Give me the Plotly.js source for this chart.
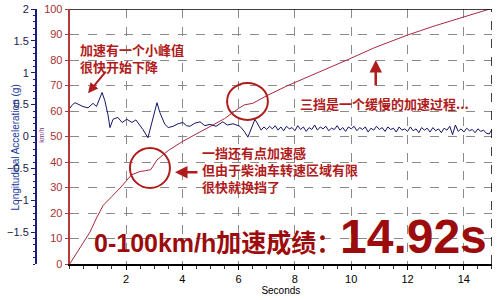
<!DOCTYPE html>
<html>
<head>
<meta charset="utf-8">
<script src="https://cdn.plot.ly/plotly-3.0.1.min.js"></script>
<style>html,body{margin:0;padding:0;background:#fff;}#chart{width:500px;height:300px;}</style>
</head>
<body>
<div id="chart"></div>
<script>
// Speed curve (km/h vs seconds)
const speedTime = [0, 0.35, 0.72, 0.95, 1.19, 1.5, 1.79, 2.2, 2.5, 2.7, 2.88, 3.1, 3.5, 4.0, 4.5, 5.0, 5.5, 6.0, 6.2, 6.5, 7.0, 7.75, 8.5, 9.2, 9.85, 10.8, 12.0, 13.0, 13.4, 14.2, 14.92];
const speedKmh  = [0, 6, 12.5, 18, 23, 26.5, 29.8, 35, 36.3, 36.6, 37, 40.8, 44.5, 48, 51, 53.8, 57, 61, 62.4, 63, 66, 70, 73.5, 77, 80, 84.7, 89.8, 93.5, 94.9, 97.5, 100];

// Longitudinal acceleration (g vs seconds)
const accTime = [0, 0.1, 0.19, 0.35, 0.47, 0.65, 0.83, 0.95, 1.15, 1.25, 1.36, 1.43, 1.54, 1.71, 1.86, 2.03, 2.21, 2.35, 2.45, 2.6, 2.78, 2.96, 3.1, 3.2, 3.38, 3.5, 3.67, 3.85, 4.02, 4.15, 4.27, 4.45, 4.63, 4.8, 4.98, 5.2, 5.44, 5.6, 5.8, 6.05, 6.2, 6.33, 6.45, 6.58, 6.7,
  6.8, 6.9, 7.0, 7.1, 7.2, 7.3, 7.4, 7.5, 7.6, 7.7, 7.8, 7.9, 8.0, 8.1, 8.2, 8.3, 8.4, 8.5, 8.6, 8.7, 8.8, 8.9, 9.0, 9.1, 9.2, 9.3, 9.4, 9.5, 9.6, 9.7, 9.8, 9.9,
  10.0, 10.1, 10.2, 10.3, 10.4, 10.5, 10.6, 10.7, 10.8, 10.9, 11.0, 11.1, 11.2, 11.3, 11.4, 11.5, 11.6, 11.7, 11.8, 11.9, 12.0, 12.1, 12.2, 12.3, 12.4, 12.5, 12.6, 12.7, 12.8, 12.9,
  13.0, 13.1, 13.2, 13.3, 13.4, 13.5, 13.6, 13.7, 13.8, 13.9, 14.0, 14.1, 14.2, 14.3, 14.4, 14.5, 14.6, 14.7, 14.8, 14.9, 15.0];
const accG = [0.44, 0.50, 0.53, 0.50, 0.47, 0.45, 0.52, 0.47, 0.69, 0.56, 0.34, 0.14, 0.27, 0.30, 0.22, 0.27, 0.22, 0.26, 0.20, 0.11, -0.02, 0.27, 0.53, 0.38, 0.19, 0.14, 0.16, 0.20, 0.22, 0.17, 0.16, 0.21, 0.23, 0.17, 0.19, 0.16, 0.23, 0.18, 0.20, 0.16, 0.08, -0.01, 0.14, 0.27, 0.18,
  0.10, 0.15, 0.11, 0.16, 0.12, 0.17, 0.10, 0.15, 0.09, 0.16, 0.12, 0.14, 0.09, 0.17, 0.11, 0.15, 0.08, 0.14, 0.11, 0.18, 0.10, 0.15, 0.12, 0.16, 0.09, 0.13, 0.11, 0.17, 0.10, 0.14, 0.08, 0.15,
  0.12, 0.16, 0.09, 0.14, 0.11, 0.15, 0.07, 0.13, 0.10, 0.16, 0.11, 0.14, 0.08, 0.15, 0.11, 0.13, 0.07, 0.15, 0.10, 0.12, 0.08, 0.15, 0.09, 0.12, 0.06, 0.14, 0.10, 0.13, 0.07, 0.14,
  0.09, 0.12, 0.06, 0.13, 0.10, 0.16, 0.03, 0.18, 0.08, 0.12, 0.07, 0.13, 0.09, 0.11, 0.06, 0.12, 0.08, 0.10, 0.05, 0.04, 0.11];

const xTicks = [2, 4, 6, 8, 10, 12, 14];
const kmhTicks = [0, 10, 20, 30, 40, 50, 60, 70, 80, 90, 100];
const gTicks = [-1.5, -1, -0.5, 0, 0.5, 1, 1.5, 2];

const RED = '#b01c1c';
const CJK = '"Noto Sans CJK SC", sans-serif';
const MIX = '"Liberation Sans", "Noto Sans CJK SC", sans-serif';

const traces = [
  {x: speedTime, y: speedKmh, type: 'scatter', mode: 'lines', yaxis: 'y',
   line: {color: '#a8283c', width: 1}, hoverinfo: 'skip'},
  {x: accTime, y: accG, type: 'scatter', mode: 'lines', yaxis: 'y2',
   line: {color: '#14146a', width: 1}, hoverinfo: 'skip'}
];

const layout = {
  width: 500, height: 300,
  margin: {l: 36, r: 8, t: 9, b: 36},
  paper_bgcolor: '#fff', plot_bgcolor: '#fff',
  showlegend: false,
  font: {family: '"Liberation Sans", Arial, sans-serif', size: 11, color: '#000'},
  xaxis: {
    domain: [0.0739, 1], range: [0, 15], tickvals: xTicks,
    ticks: 'outside', ticklen: 4, tickcolor: '#000',
    showline: true, linecolor: '#000', linewidth: 2,
    showgrid: true, gridcolor: '#8a8a8a', griddash: 'dash', gridwidth: 1,
    zeroline: false,
    minor: {dtick: 0.5, ticklen: 3, tickcolor: '#333', showgrid: false},
    tickfont: {size: 11, color: '#000'},
    title: {text: 'Seconds', font: {size: 10, color: '#000'}, standoff: 2}
  },
  yaxis: {
    range: [0, 100], tickvals: kmhTicks,
    ticks: 'outside', ticklen: 3, tickcolor: '#b53a3a',
    showline: true, linecolor: '#b53a3a', linewidth: 2,
    showgrid: true, gridcolor: '#8a8a8a', griddash: 'dash', gridwidth: 1,
    zeroline: false,
    tickfont: {size: 11, color: '#a83232'}
  },
  yaxis2: {
    overlaying: 'y', anchor: 'free', position: 0, side: 'left',
    range: [-2, 2], tickvals: gTicks,
    ticks: 'outside', ticklen: 4, tickcolor: '#1c1c7c',
    showline: true, linecolor: '#1c1c7c', linewidth: 2,
    showgrid: false, zeroline: false,
    minor: {dtick: 0.1, ticklen: 2, tickcolor: '#1c1c7c', showgrid: false},
    tickfont: {size: 11, color: '#1a1a4a'}
  },
  shapes: [
    {type: 'line', xref: 'x', yref: 'y', x0: 0, x1: 15, y0: 100, y1: 100, line: {color: '#000', width: 1.5}},
    {type: 'line', xref: 'x', yref: 'y', x0: 15, x1: 15, y0: 0, y1: 100, line: {color: '#000', width: 1.5, dash: 'dash'}},
    {type: 'circle', xref: 'x', yref: 'y', x0: 5.59, x1: 7.04, y0: 56.5, y1: 71, line: {color: RED, width: 2}},
    {type: 'circle', xref: 'x', yref: 'y', x0: 2.14, x1: 3.56, y0: 29.8, y1: 45.5, line: {color: RED, width: 2}}
  ],
  annotations: [
    {xref: 'paper', yref: 'paper', x: -0.0614, y: 0.455, text: 'Longitudinal Acceleration (g)', textangle: -90,
     showarrow: false, font: {size: 10, color: '#1a3a9a'}},
    {xref: 'paper', yref: 'y', x: 0, y: 50.5, text: 'km/h', textangle: -90, showarrow: false,
     font: {size: 7, color: '#7a2a8a'}},
    {xref: 'x', yref: 'y', x: 0.29, y: 80.8, xanchor: 'left', yanchor: 'middle', align: 'left',
     text: '<b>加速有一个小峰值<br>很快开始下降</b>', showarrow: false, font: {family: CJK, size: 13, color: RED}},
    {xref: 'x', yref: 'y', x: 0.65, y: 67, ax: 19, ay: -23, text: '', showarrow: true,
     arrowhead: 2, arrowsize: 1, arrowwidth: 2, arrowcolor: RED},
    {xref: 'x', yref: 'y', x: 4.63, y: 36.9, xanchor: 'left', yanchor: 'middle', align: 'left',
     text: '<b>一挡还有点加速感<br>但由于柴油车转速区域有限<br>很快就换挡了</b>', showarrow: false,
     font: {family: CJK, size: 13, color: RED}},
    {xref: 'x', yref: 'y', x: 3.74, y: 36, ax: 24, ay: 0, text: '', showarrow: true,
     arrowhead: 2, arrowsize: 1, arrowwidth: 2.5, arrowcolor: RED},
    {xref: 'x', yref: 'y', x: 8.11, y: 63.1, xanchor: 'left', yanchor: 'middle',
     text: '<b>三挡是一个缓慢的加速过程...</b>', showarrow: false, font: {family: CJK, size: 13, color: RED}},
    {xref: 'x', yref: 'y', x: 10.87, y: 80, ax: 0, ay: 27, text: '', showarrow: true,
     arrowhead: 2, arrowsize: 1, arrowwidth: 2.5, arrowcolor: RED},
    {xref: 'x', yref: 'y', x: 0.79, y: 8.2, xanchor: 'left', yanchor: 'middle',
     text: '<b>0-100km/h加速成绩：</b>', showarrow: false, font: {family: MIX, size: 25, color: '#9c0c0c'}},
    {xref: 'x', yref: 'y', x: 9.52, y: 10.6, xanchor: 'left', yanchor: 'middle',
     text: '<b>14.92s</b>', showarrow: false, font: {family: MIX, size: 48, color: '#9c0c0c'}}
  ]
};

Plotly.newPlot('chart', traces, layout, {staticPlot: true, displayModeBar: false});
</script>
</body>
</html>
